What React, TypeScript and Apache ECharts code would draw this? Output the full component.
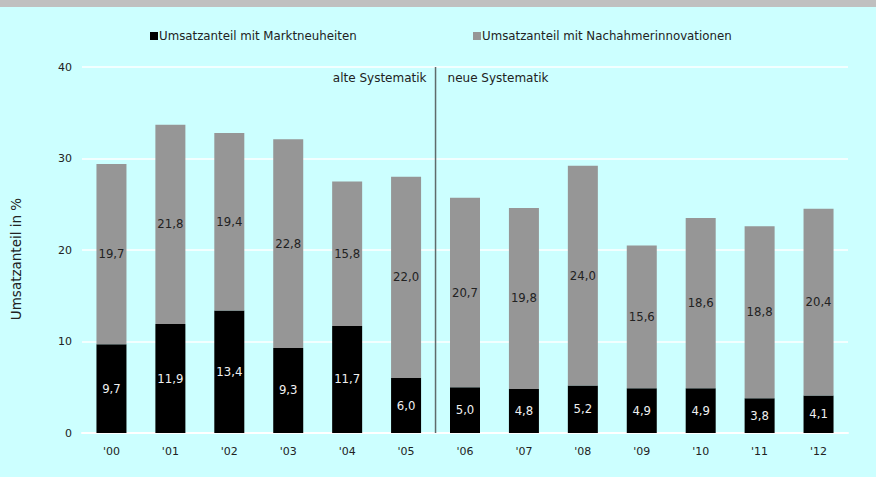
import React, { useEffect, useRef } from "react";
import * as echarts from "echarts";

const categories = ["'00", "'01", "'02", "'03", "'04", "'05", "'06", "'07", "'08", "'09", "'10", "'11", "'12"];
const marktneuheiten = [9.7, 11.9, 13.4, 9.3, 11.7, 6.0, 5.0, 4.8, 5.2, 4.9, 4.9, 3.8, 4.1];
const nachahmer = [19.7, 21.8, 19.4, 22.8, 15.8, 22.0, 20.7, 19.8, 24.0, 15.6, 18.6, 18.8, 20.4];
const seriesNames = ["Umsatzanteil mit Marktneuheiten", "Umsatzanteil mit Nachahmerinnovationen"];
const yTicks = { min: 0, max: 40, interval: 10 };
const dividerAfterIndex = 5;

const FONT = "'DejaVu Sans', Verdana, sans-serif";
const fmt = (v: number) => v.toFixed(1).replace(".", ",");

export default function App() {
  const ref = useRef<HTMLDivElement>(null);
  useEffect(() => {
    if (!ref.current) return;
    const chart = echarts.init(ref.current, undefined, { renderer: "svg" });
    const legendText = { fontSize: 11.8, color: "#222", fontFamily: FONT, padding: [0, 0, 0, -4] };
    const option: any = {
      animation: false,
      backgroundColor: "#CCFFFF",
      textStyle: { fontFamily: FONT },
      legend: [
        {
          data: [seriesNames[0]],
          left: 145,
          top: 25,
          itemWidth: 8,
          itemHeight: 8,
          icon: "rect",
          textStyle: legendText,
        },
        {
          data: [seriesNames[1]],
          left: 468,
          top: 25,
          itemWidth: 8,
          itemHeight: 8,
          icon: "rect",
          textStyle: legendText,
        },
      ],
      grid: { left: 82, right: 28, top: 67, bottom: 44 },
      xAxis: {
        type: "category",
        data: categories,
        axisLine: { show: true, lineStyle: { color: "#FFFFFF", width: 2 } },
        axisTick: { show: false },
        axisLabel: { color: "#222", fontSize: 11, margin: 13, fontFamily: FONT },
      },
      yAxis: {
        type: "value",
        min: yTicks.min,
        max: yTicks.max,
        interval: yTicks.interval,
        axisLine: { show: false },
        axisTick: { show: false },
        axisLabel: { color: "#222", fontSize: 11, margin: 10, fontFamily: FONT },
        splitLine: { lineStyle: { color: "#FFFFFF", width: 1.5 } },
      },
      series: [
        {
          name: seriesNames[0],
          type: "bar",
          stack: "total",
          barWidth: 30,
          data: marktneuheiten,
          itemStyle: { color: "#000000" },
          label: {
            show: true,
            position: "inside",
            color: "#F0F0F0",
            fontSize: 11.7,
            fontFamily: FONT,
            formatter: (p: any) => fmt(p.value),
          },
        },
        {
          name: seriesNames[1],
          type: "bar",
          stack: "total",
          barWidth: 30,
          data: nachahmer,
          itemStyle: { color: "#969696" },
          label: {
            show: true,
            position: "inside",
            color: "#222222",
            fontSize: 11.7,
            fontFamily: FONT,
            formatter: (p: any) => fmt(p.value),
          },
        },
      ],
    };
    chart.setOption(option);

    const a = chart.convertToPixel({ xAxisIndex: 0 }, dividerAfterIndex) as unknown as number;
    const b = chart.convertToPixel({ xAxisIndex: 0 }, dividerAfterIndex + 1) as unknown as number;
    const x = (a + b) / 2;
    const yTop = chart.convertToPixel({ yAxisIndex: 0 }, yTicks.max) as unknown as number;
    const yBot = chart.convertToPixel({ yAxisIndex: 0 }, 0) as unknown as number;
    chart.setOption({
      graphic: [
        {
          type: "rect",
          left: 0,
          top: 0,
          shape: { x: 0, y: 0, width: 876, height: 7 },
          style: { fill: "#C0C0C0" },
          z: 10,
        },
        {
          type: "line",
          shape: { x1: x, y1: yTop, x2: x, y2: yBot },
          style: { stroke: "#5F6B6B", lineWidth: 1.5 },
          z: 10,
        },
        {
          type: "text",
          x: x - 9,
          y: yTop + 11,
          style: {
            text: "alte Systematik",
            align: "right",
            verticalAlign: "middle",
            fontSize: 12,
            fill: "#222",
            fontFamily: FONT,
          },
          z: 10,
        },
        {
          type: "text",
          x: x + 12,
          y: yTop + 11,
          style: {
            text: "neue Systematik",
            align: "left",
            verticalAlign: "middle",
            fontSize: 12,
            fill: "#222",
            fontFamily: FONT,
          },
          z: 10,
        },
        {
          type: "text",
          x: 16,
          y: 259,
          rotation: Math.PI / 2,
          style: {
            text: "Umsatzanteil in %",
            align: "center",
            verticalAlign: "middle",
            fontSize: 13.5,
            fill: "#222",
            fontFamily: FONT,
          },
          z: 10,
        },
      ],
    });
    return () => chart.dispose();
  }, []);
  return <div ref={ref} style={{ width: 876, height: 477, position: "absolute", left: 0, top: 0 }} />;
}
